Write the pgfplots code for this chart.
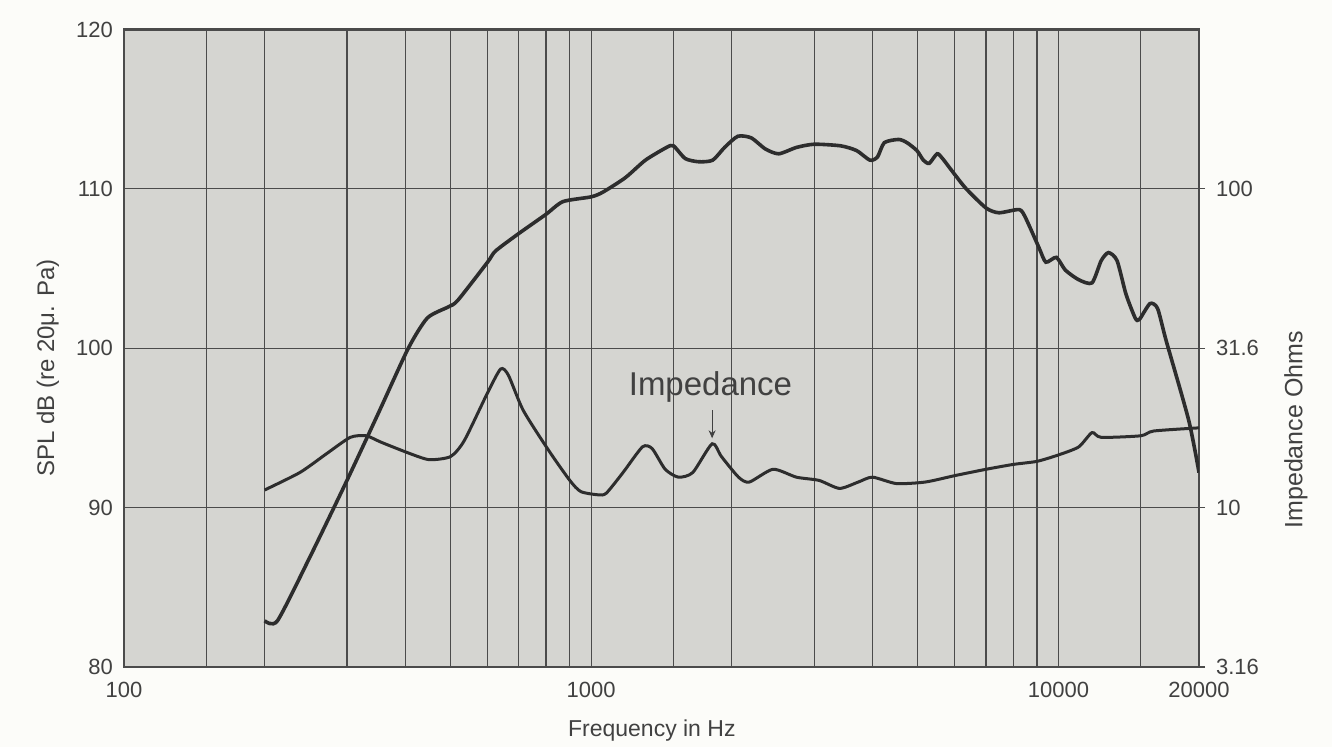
\documentclass[border=0pt]{standalone}
\usepackage{pgfplots}
\pgfplotsset{compat=1.18}
\usepackage{pgfplotstable}
\usepackage{fontspec}
\setmainfont{Liberation Sans}
\usetikzlibrary{arrows.meta}
\definecolor{paper}{RGB}{252,252,249}
\definecolor{plotbg}{RGB}{213,213,209}
\definecolor{gridc}{RGB}{75,75,75}
\definecolor{curve}{RGB}{45,45,45}
\definecolor{txt}{RGB}{65,65,65}

\pgfplotstableread{
f spl
200 82.9
213 82.9
250 86.9
300 91.7
350 95.9
406 100.0
446 101.9
495 102.6
518 103.0
600 105.4
624 106.1
700 107.2
800 108.4
870 109.2
1000 109.5
1060 109.8
1183 110.7
1306 111.8
1450 112.6
1500 112.7
1590 111.9
1700 111.7
1820 111.8
1930 112.6
2060 113.3
2200 113.2
2360 112.5
2520 112.2
2750 112.6
3000 112.8
3420 112.7
3700 112.4
3950 111.8
4100 112.0
4240 112.9
4550 113.1
4740 112.9
4980 112.4
5140 111.8
5290 111.6
5500 112.2
5650 111.9
6000 110.9
6350 110.0
7000 108.8
7460 108.5
8240 108.7
8500 108.2
9090 106.3
9400 105.4
9900 105.7
10350 104.9
11050 104.3
11800 104.1
12350 105.5
12800 106.0
13350 105.5
13950 103.4
14600 101.9
14900 101.8
15700 102.8
16300 102.5
17000 100.5
19000 95.5
20000 92.2
}\spldata

\pgfplotstableread{
f ohm
200 11.35
238 12.88
272 14.79
305 16.6
330 16.79
355 16.03
408 14.79
450 14.13
500 14.45
535 16.22
600 22.9
640 27.2
665 26.0
715 20.2
810 15.14
900 12.16
950 11.22
1035 10.96
1077 11.09
1170 12.88
1287 15.49
1350 15.31
1440 13.18
1537 12.45
1650 12.88
1815 15.85
1900 14.45
2067 12.45
2180 12.02
2450 13.18
2750 12.45
3075 12.16
3400 11.48
3730 12.02
4000 12.45
4500 11.89
5190 12.02
6000 12.59
7000 13.18
8000 13.65
9000 13.96
10000 14.62
11050 15.49
11800 17.18
12350 16.6
15000 16.79
16000 17.38
20000 17.78
}\impdata

\begin{document}
\begin{tikzpicture}
\fill[paper] (-62pt,-40pt) rectangle (604pt,333.5pt);
\useasboundingbox (-62pt,-40pt) rectangle (604pt,333.5pt);
\begin{axis}[
  at={(0,0)}, anchor=south west,
  scale only axis, width=537.5pt, height=318.75pt,
  xmode=log, xmin=100, xmax=20000, ymin=80, ymax=120,
  axis background/.style={fill=plotbg},
  xtick={100,1000,10000,20000},
  xticklabels={100,1000,10000,20000},
  minor xtick={150,200,300,400,500,600,700,800,900,1500,2000,3000,4000,5000,6000,7000,8000,9000,15000},
  ytick={80,90,100,110,120},
  ytick pos=left,
  major tick length=0pt, minor tick length=0pt,
  grid=both,
  major grid style={gridc, line width=0.6pt},
  minor grid style={gridc, line width=0.6pt},
  axis line style={gridc, line width=1.3pt},
  /pgf/number format/assume math mode=true,
  tick label style={font=\fontsize{11}{13}\selectfont, text=txt},
  xticklabel style={yshift=-4pt},
  yticklabel style={xshift=-2pt},
  xlabel={Frequency in Hz},
  xlabel style={at={(axis description cs:0.491,-0.099)}, anchor=center, font=\fontsize{11.5}{13}\selectfont, text=txt},
  ylabel={SPL dB (re 20μ. Pa)},
  ylabel style={at={(axis description cs:-0.0707,0.469)}, anchor=center, font=\fontsize{12}{14}\selectfont, text=txt},
  clip=true,
]
\addplot[curve, line width=1.8pt, smooth, tension=0.4] table[x=f, y=spl] {\spldata};
\node[font=\fontsize{16.5}{18}\selectfont, text=txt] at (axis cs:1800,97.55) {Impedance};
\draw[-{Stealth[length=4pt,width=3.5pt]}, txt, line width=0.6pt] (axis cs:1815,96.1) -- (axis cs:1815,94.35);
\end{axis}
\begin{axis}[
  at={(0,0)}, anchor=south west,
  scale only axis, width=537.5pt, height=318.75pt,
  xmode=log, xmin=100, xmax=20000,
  ymode=log, ymin=3.16, ymax=316,
  axis x line=none,
  axis y line*=right,
  axis line style={draw=none},
  ytick={3.16,10,31.6,100},
  yticklabels={3.16,10,31.6,100},
  yminorticks=false,
  tick align=outside,
  major tick length=3pt,
  ytick style={gridc, line width=0.6pt},
  /pgf/number format/assume math mode=true,
  tick label style={font=\fontsize{11}{13}\selectfont, text=txt},
  yticklabel style={xshift=2pt},
  ylabel={Impedance Ohms},
  ylabel style={at={(axis description cs:1.090,0.372)}, anchor=center, font=\fontsize{12.5}{14}\selectfont, text=txt},
]
\addplot[curve, line width=1.5pt, smooth, tension=0.4] table[x=f, y=ohm] {\impdata};
\end{axis}
\end{tikzpicture}
\end{document}
